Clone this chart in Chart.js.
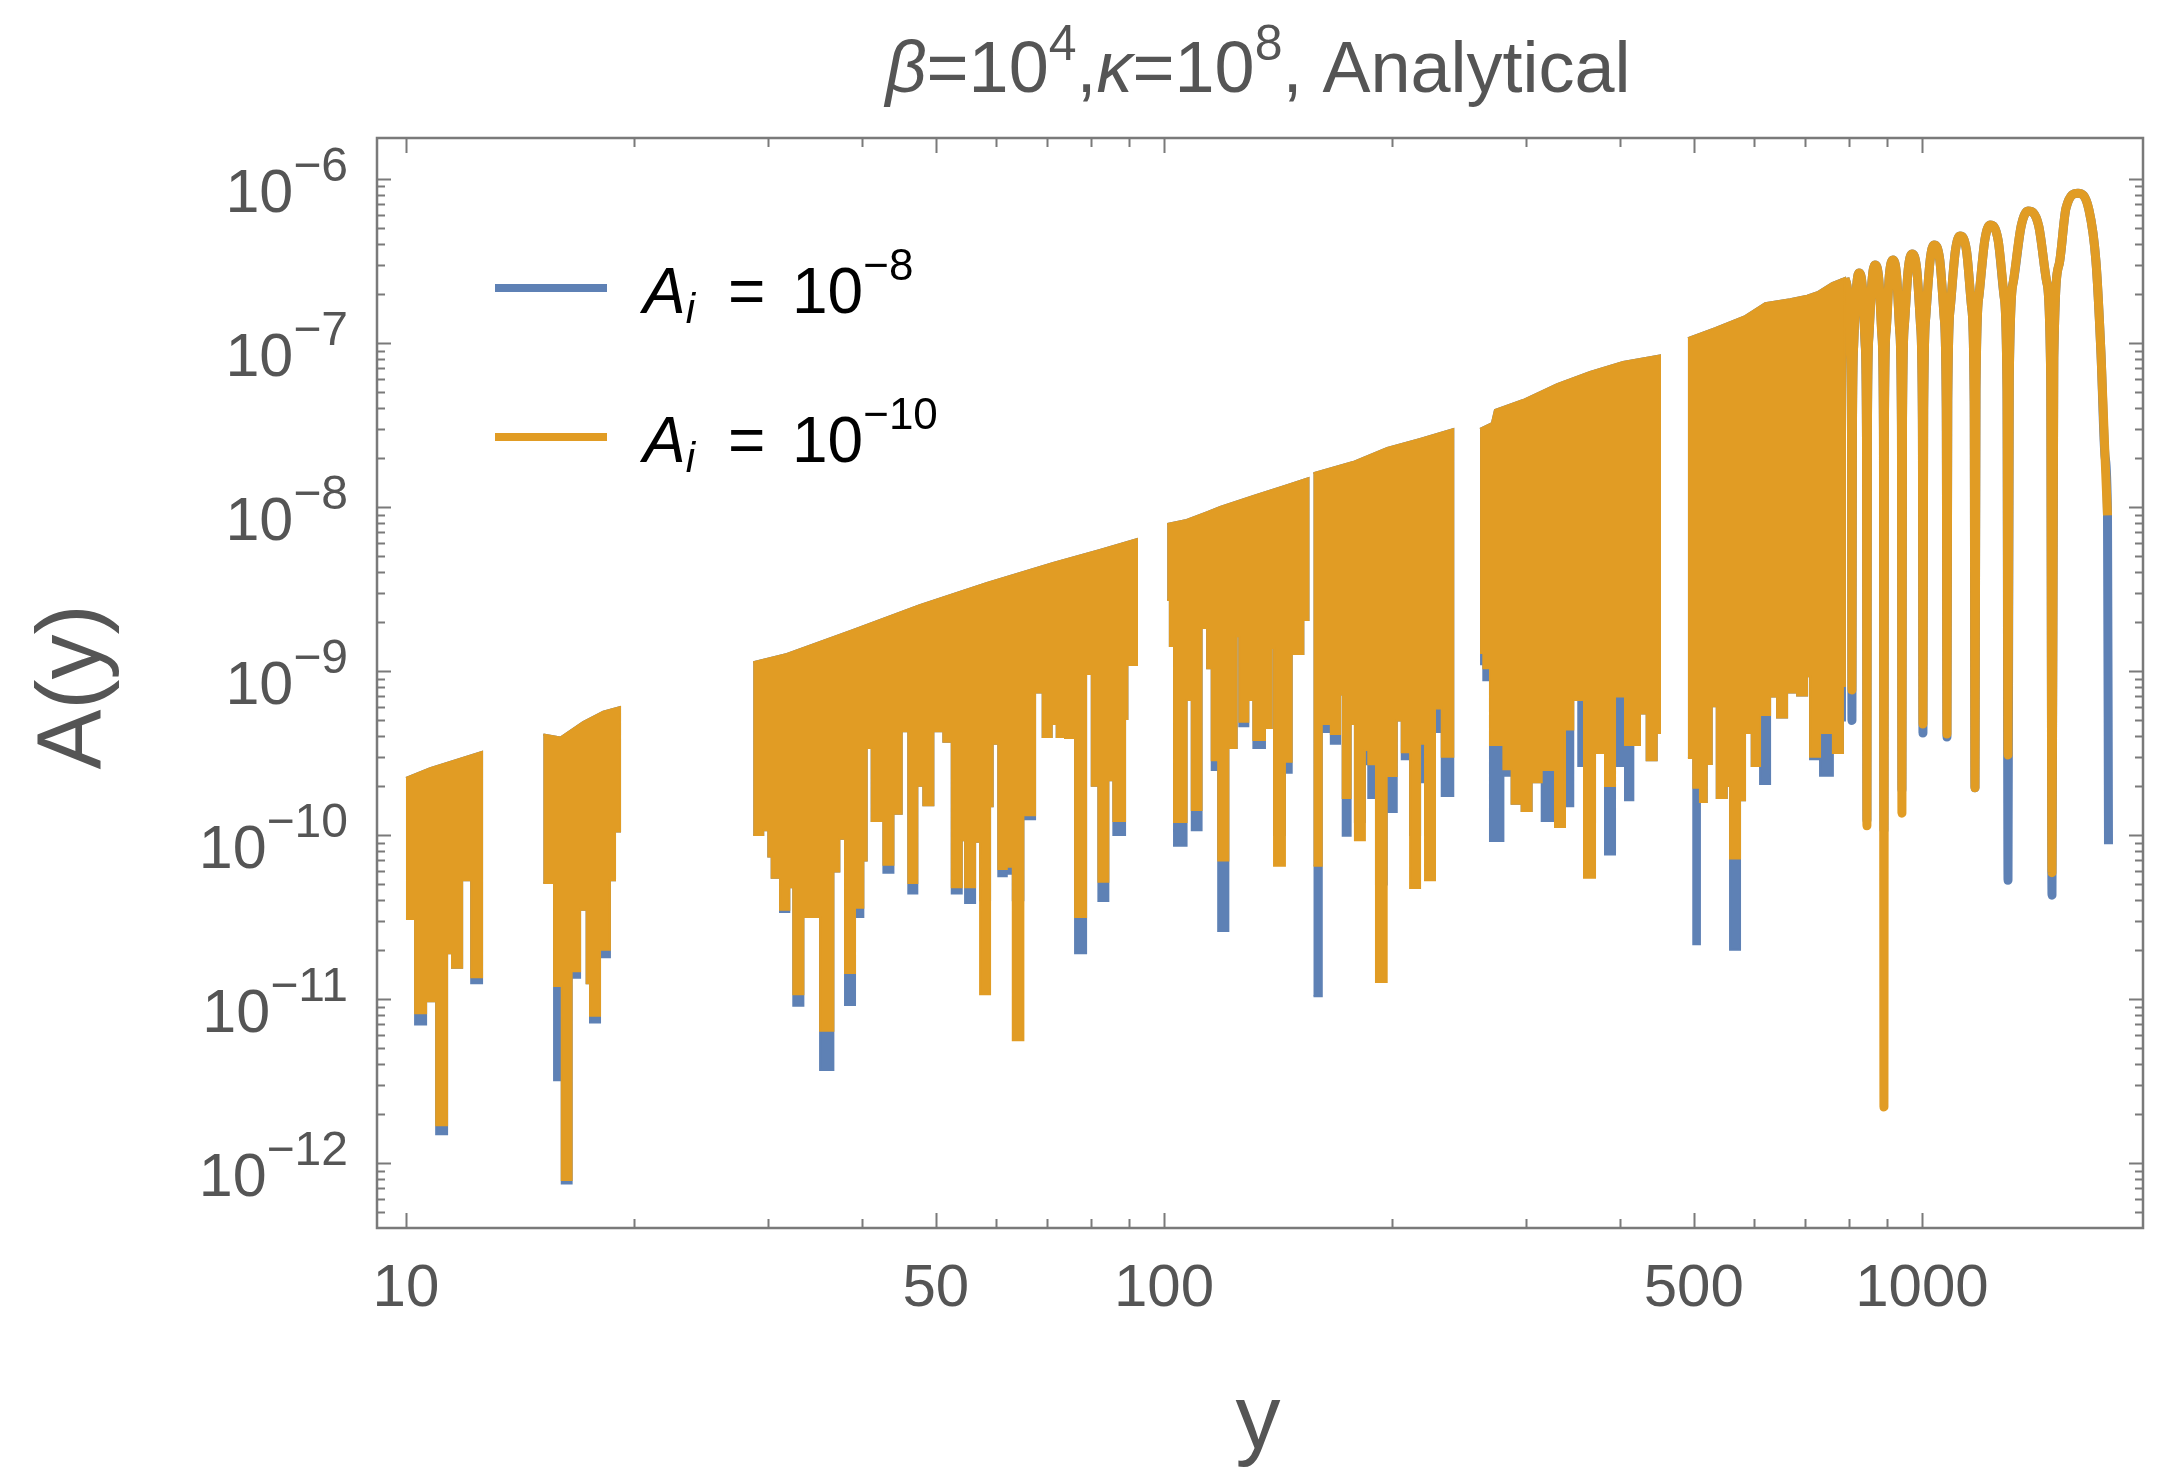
<!DOCTYPE html>
<html>
<head>
<meta charset="utf-8">
<title>A(y) analytical</title>
<script src="https://cdn.jsdelivr.net/npm/chart.js@4.4.1/dist/chart.umd.min.js"></script>
<style>
  html, body { margin: 0; padding: 0; background: #fff; }
  canvas { display: block; }
</style>
</head>
<body>
<canvas id="chart" width="2168" height="1469"></canvas>
<script>
// ---- data ----
const xTickLabels = [10, 50, 100, 500, 1000];
const xMinorTicks = [20, 30, 40, 60, 70, 80, 90, 200, 300, 400, 600, 700, 800, 900];
const yTickExps = [-12, -11, -10, -9, -8, -7, -6];

// upper envelope of the dense oscillations (null = gap between pieces)
const topX = [
  10.0, 10.76, 11.43, 12.6, null,
  15.18, 15.98, 17.12, 18.2, 19.16, null,
  28.72, 31.8, 38.9, 47.6, 58.4, 71.4, 82.3, 92.13, null,
  101.0, 107.1, 114.0, 118.6, 131.2, 145.3, 155.1, null,
  157.5, 177.5, 197.0, 217.7, 240.8, null,
  261.2, 270.8, 273.3, 297.6, 330.0, 364.8, 403.2, 451.2, null,
  491.2, 533.3, 584.2, 620.9, 669.9, 705.4, 729.3, 760.6, 791.4
];
const topA = [
  2.23e-10, 2.56e-10, 2.79e-10, 3.21e-10, null,
  4.1e-10, 3.93e-10, 4.89e-10, 5.66e-10, 6.03e-10, null,
  1.13e-9, 1.27e-9, 1.78e-9, 2.52e-9, 3.44e-9, 4.56e-9, 5.47e-9, 6.38e-9, null,
  7.87e-9, 8.34e-9, 9.3e-9, 1.0e-8, 1.17e-8, 1.36e-8, 1.5e-8, null,
  1.61e-8, 1.88e-8, 2.29e-8, 2.6e-8, 2.99e-8, null,
  2.99e-8, 3.25e-8, 3.9e-8, 4.49e-8, 5.62e-8, 6.65e-8, 7.66e-8, 8.4e-8, null,
  1.07e-7, 1.23e-7, 1.46e-7, 1.75e-7, 1.85e-7, 1.94e-7, 2.05e-7, 2.32e-7, 2.49e-7
];

// local minima under the envelope: each value holds until the next x
const floorX = [
  10.0, 10.28, 10.63, 10.96, 11.33, 11.5, 11.86, 12.19, null,
  15.18, 15.68, 16.05, 16.54, 16.97, 17.31, 17.49, 18.03, 18.58, 18.87, null,
  28.72, 29.6, 30.06, 30.37, 31.15, 32.04, 32.43, 33.44, 35.18, 36.63, 37.3, 37.95,
  39.12, 40.12, 40.53, 41.15, 42.64, 43.96, 45.08, 45.99, 47.27, 48.14, 49.63, 51.16,
  52.48, 54.1, 54.65, 56.34, 57.2, 58.96, 59.43, 60.45, 62.03, 63.17, 65.24, 67.6,
  69.18, 71.1, 72.19, 74.04, 76.33, 78.93, 80.3, 81.93, 84.45, 85.74, 88.85, 89.48, null,
  101.0, 101.8, 103.1, 107.1, 108.8, 112.1, 114.0, 115.6, 117.9, 121.6, 124.7, 125.7,
  129.2, 131.2, 135.9, 138.7, 139.7, 144.4, 147.4, 152.7, null,
  157.5, 161.5, 166.0, 170.7, 172.1, 176.3, 178.6, 184.1, 186.0, 190.4, 196.7, 202.8,
  205.9, 211.2, 217.7, 221.0, 227.8, 232.5, null,
  261.2, 263.8, 269.2, 280.4, 287.5, 296.4, 305.5, 315.0, 328.0, 338.1, 346.7, 352.0,
  358.2, 370.4, 381.8, 393.6, 405.7, 416.1, 424.6, 433.3, 446.7, null,
  491.2, 499.2, 509.4, 520.0, 528.0, 536.1, 552.6, 558.2, 575.4, 584.2, 596.2, 611.5,
  630.4, 643.9, 663.8, 684.3, 705.4, 711.8, 733.7, 762.9, 786.5
];
// A_i = 1e-10 (orange)
const floorA10 = [
  3.08e-11, 8.2e-12, 9.7e-12, 1.7e-12, 1.9e-11, 1.55e-11, 5.3e-11, 1.36e-11, null,
  5.1e-11, 1.2e-11, 7.9e-13, 1.48e-11, 3.5e-11, 1.25e-11, 7.9e-12, 2.0e-11, 5.3e-11, 1.05e-10, null,
  1.0e-10, 1.07e-10, 7.4e-11, 5.5e-11, 3.5e-11, 4.8e-11, 1.07e-11, 3.16e-11, 6.4e-12, 6.0e-11, 9.5e-11, 1.44e-11,
  3.6e-11, 7.0e-11, 3.4e-10, 1.22e-10, 6.6e-11, 1.35e-10, 4.3e-10, 5.1e-11, 2.0e-10, 1.52e-10, 4.3e-10, 3.7e-10,
  4.8e-11, 9.3e-11, 4.8e-11, 9.1e-11, 1.07e-11, 1.5e-10, 3.6e-10, 6.2e-11, 6.4e-11, 5.6e-12, 1.32e-10, 7.4e-10,
  3.96e-10, 4.75e-10, 3.96e-10, 3.9e-10, 3.16e-11, 9.6e-10, 2.0e-10, 5.2e-11, 2.16e-10, 1.22e-10, 5.1e-10, 1.09e-9, null,
  2.71e-9, 1.42e-9, 1.2e-10, 6.65e-10, 1.42e-10, 1.83e-9, 1.04e-9, 2.86e-10, 7.0e-11, 3.4e-10, 1.63e-9, 4.9e-10,
  6.65e-10, 3.8e-10, 4.5e-10, 1.38e-9, 6.5e-11, 2.8e-10, 1.27e-9, 2.05e-9, null,
  6.5e-11, 4.75e-10, 4.13e-10, 7.2e-10, 1.68e-10, 4.75e-10, 9.3e-11, 3.3e-10, 2.7e-10, 1.27e-11, 2.29e-10, 5.0e-10,
  3.2e-10, 4.75e-11, 3.6e-10, 5.3e-11, 5.9e-10, 3.0e-10, null,
  1.29e-9, 1.04e-9, 3.54e-10, 2.52e-10, 1.55e-10, 1.4e-10, 2.1e-10, 2.49e-10, 1.12e-10, 4.4e-10, 6.65e-10, 6.65e-10,
  5.5e-11, 3.16e-10, 1.99e-10, 7.0e-10, 3.54e-10, 3.54e-10, 5.5e-10, 2.86e-10, 4.19e-10, null,
  2.95e-10, 1.94e-10, 1.59e-10, 2.71e-10, 6.1e-10, 1.68e-10, 1.99e-10, 7.2e-11, 1.63e-10, 4.19e-10, 2.64e-10, 5.4e-10,
  7.0e-10, 5.2e-10, 7.4e-10, 7.1e-10, 9.3e-10, 3.0e-10, 4.19e-10, 3.16e-10, 8.1e-10
];
// A_i = 1e-8 (blue)
const floorA8 = [
  3.08e-11, 7.0e-12, 9.7e-12, 1.5e-12, 1.9e-11, 1.55e-11, 5.3e-11, 1.25e-11, null,
  5.1e-11, 3.2e-12, 7.5e-13, 1.35e-11, 3.5e-11, 1.25e-11, 7.2e-12, 1.8e-11, 5.3e-11, 1.05e-10, null,
  1.0e-10, 1.07e-10, 7.4e-11, 5.5e-11, 3.4e-11, 4.8e-11, 9.1e-12, 3.16e-11, 3.7e-12, 6.0e-11, 9.5e-11, 9.2e-12,
  3.16e-11, 7.0e-11, 3.4e-10, 1.22e-10, 5.9e-11, 1.35e-10, 4.3e-10, 4.4e-11, 2.0e-10, 1.52e-10, 4.3e-10, 3.7e-10,
  4.4e-11, 9.3e-11, 3.85e-11, 9.1e-11, 4.0e-11, 1.5e-10, 3.6e-10, 5.6e-11, 5.8e-11, 4.0e-11, 1.25e-10, 7.4e-10,
  3.96e-10, 4.75e-10, 3.96e-10, 3.9e-10, 1.9e-11, 9.6e-10, 2.0e-10, 3.96e-11, 2.16e-10, 1.0e-10, 5.1e-10, 1.09e-9, null,
  2.71e-9, 1.42e-9, 8.6e-11, 6.65e-10, 1.07e-10, 1.83e-9, 1.04e-9, 2.49e-10, 2.6e-11, 3.4e-10, 1.63e-9, 4.6e-10,
  6.65e-10, 3.4e-10, 4.5e-10, 1.38e-9, 1.0e-10, 2.4e-10, 1.27e-9, 2.05e-9, null,
  1.04e-11, 4.25e-10, 3.6e-10, 7.2e-10, 9.9e-11, 4.75e-10, 1.2e-10, 2.7e-10, 1.68e-10, 5.0e-11, 1.38e-10, 5.0e-10,
  2.9e-10, 1.0e-10, 2.1e-10, 1.0e-10, 4.25e-10, 1.73e-10, null,
  1.1e-9, 8.8e-10, 9.2e-11, 2.3e-10, 1.55e-10, 1.4e-10, 2.1e-10, 1.22e-10, 1.5e-10, 1.5e-10, 6.65e-10, 2.64e-10,
  1.2e-10, 3.16e-10, 7.6e-11, 2.64e-10, 1.63e-10, 3.54e-10, 5.5e-10, 2.86e-10, 4.19e-10, null,
  2.95e-10, 2.16e-11, 1.59e-10, 2.71e-10, 6.1e-10, 1.68e-10, 1.99e-10, 2.0e-11, 1.63e-10, 4.19e-10, 2.64e-10, 2.05e-10,
  7.0e-10, 5.2e-10, 7.4e-10, 7.1e-10, 9.3e-10, 2.9e-10, 2.3e-10, 3.16e-10, 5.0e-10
];

// resolved oscillations at large y: per lobe trough, flanks, shoulders, peak
const lobeX = [
  791.4, 798.2, 804.2, 807.4, 808.4,
  809.5, 812.8, 819.6, 825.7, 834.6, 841.4, 844.9, 846.0,
  847.3, 851.2, 859.3, 866.8, 877.3, 885.5, 889.5, 890.9,
  892.2, 896.8, 905.7, 915.5, 925.7, 934.6, 939.5, 940.9,
  942.6, 948.1, 959.2, 970.0, 984.1, 995.5, 1001.2, 1003.0,
  1005.2, 1011.9, 1025.2, 1037.1, 1055.5, 1069.4, 1076.6, 1078.9,
  1081.5, 1090.1, 1106.7, 1122.3, 1145.0, 1162.6, 1171.9, 1174.7,
  1178.3, 1189.1, 1210.4, 1229.5, 1260.1, 1283.0, 1294.7, 1298.7,
  1303.8, 1319.8, 1351.7, 1379.9, 1425.6, 1460.6, 1478.4, 1484.3,
  1492.5, 1517.2, 1548.9, 1606.3, 1660.8, 1696.6, 1722.6, 1743.6, 1756.9, 1762.2
];
const lobeA10 = [
  2.49e-7, 2.02e-7, 9.19e-8, 2.46e-8, 7.66e-10,
  2.64e-8, 9.86e-8, 2.16e-7, 2.67e-7, 2.16e-7, 9.86e-8, 2.64e-8, 1.14e-10,
  2.95e-8, 1.1e-7, 2.42e-7, 2.99e-7, 2.42e-7, 1.1e-7, 2.95e-8, 2.2e-12,
  3.16e-8, 1.18e-7, 2.6e-7, 3.21e-7, 2.6e-7, 1.18e-7, 3.16e-8, 1.36e-10,
  3.44e-8, 1.29e-7, 2.83e-7, 3.49e-7, 2.83e-7, 1.29e-7, 3.44e-8, 4.75e-10,
  3.9e-8, 1.46e-7, 3.21e-7, 3.96e-7, 3.21e-7, 1.46e-7, 3.9e-8, 4.13e-10,
  4.43e-8, 1.66e-7, 3.64e-7, 4.49e-7, 3.64e-7, 1.66e-7, 4.43e-8, 1.94e-10,
  5.17e-8, 1.94e-7, 4.25e-7, 5.25e-7, 4.25e-7, 1.94e-7, 5.17e-8, 3.08e-10,
  6.3e-8, 2.36e-7, 5.17e-7, 6.38e-7, 5.17e-7, 2.36e-7, 6.3e-8, 5.9e-11,
  8.1e-8, 3.03e-7, 6.65e-7, 8.2e-7, 6.47e-7, 3.12e-7, 8.57e-8, 2.05e-8, 8.9e-9, null
];
const lobeA8 = [
  2.49e-7, 2.02e-7, 9.19e-8, 2.46e-8, 5.0e-10,
  2.64e-8, 9.86e-8, 2.16e-7, 2.67e-7, 2.16e-7, 9.86e-8, 2.64e-8, 1.23e-10,
  2.95e-8, 1.1e-7, 2.42e-7, 2.99e-7, 2.42e-7, 1.1e-7, 2.95e-8, 1.07e-10,
  3.16e-8, 1.18e-7, 2.6e-7, 3.21e-7, 2.6e-7, 1.18e-7, 3.16e-8, 1.88e-10,
  3.44e-8, 1.29e-7, 2.83e-7, 3.49e-7, 2.83e-7, 1.29e-7, 3.44e-8, 4.19e-10,
  3.9e-8, 1.46e-7, 3.21e-7, 3.96e-7, 3.21e-7, 1.46e-7, 3.9e-8, 3.96e-10,
  4.43e-8, 1.66e-7, 3.64e-7, 4.49e-7, 3.64e-7, 1.66e-7, 4.43e-8, 1.94e-10,
  5.17e-8, 1.94e-7, 4.25e-7, 5.25e-7, 4.25e-7, 1.94e-7, 5.17e-8, 5.3e-11,
  6.3e-8, 2.36e-7, 5.17e-7, 6.38e-7, 5.17e-7, 2.36e-7, 6.3e-8, 4.3e-11,
  8.1e-8, 3.03e-7, 6.65e-7, 8.2e-7, 6.47e-7, 3.12e-7, 8.57e-8, 2.05e-8, 8.9e-9, 8.8e-11
];

// ---- styling ----
const BLUE = '#5e81b5';
const ORANGE = '#e19c24';
const FRAME = '#7a7a7a';
const LABEL = '#555555';
const FONT = '"Liberation Sans", Arial, sans-serif';

// index lists of each piece between nulls
function pieces(xs) {
  const out = [];
  let cur = null;
  xs.forEach((v, i) => {
    if (v === null) { cur = null; return; }
    if (!cur) { cur = []; out.push(cur); }
    cur.push(i);
  });
  return out;
}
const topPieces = pieces(topX);
const floorPieces = pieces(floorX);

// closed outline: envelope left->right, then stepped minima right->left
function band(p, floorA) {
  const t = topPieces[p], f = floorPieces[p];
  const pts = t.map(i => ({ x: topX[i], y: topA[i] }));
  const endX = topX[t[t.length - 1]];
  for (let k = f.length - 1; k >= 0; k--) {
    const i = f[k];
    const right = k === f.length - 1 ? endX : floorX[f[k + 1]];
    pts.push({ x: right, y: floorA[i] }, { x: floorX[i], y: floorA[i] });
  }
  return pts;
}

const datasets = [];
topPieces.forEach((_, p) => {
  datasets.push({ data: band(p, floorA10), borderColor: ORANGE, backgroundColor: ORANGE,
    borderWidth: 2, fill: 'shape', order: 1 });
  datasets.push({ data: band(p, floorA8), borderColor: BLUE, backgroundColor: BLUE,
    borderWidth: 2, fill: 'shape', order: 2 });
});
datasets.push({ data: lobeX.map((x, i) => ({ x, y: lobeA10[i] })), borderColor: ORANGE,
  borderWidth: 9, fill: false, cubicInterpolationMode: 'monotone', borderJoinStyle: 'round', order: 1 });
datasets.push({ data: lobeX.map((x, i) => ({ x, y: lobeA8[i] })), borderColor: BLUE,
  borderWidth: 9, fill: false, cubicInterpolationMode: 'monotone', borderJoinStyle: 'round', order: 2 });

// draws text pieces in a row; pieces: [text, size, style, dy]
function drawRow(ctx, x, y, parts, color) {
  ctx.fillStyle = color;
  ctx.textAlign = 'left';
  ctx.textBaseline = 'alphabetic';
  parts.forEach(([txt, size, style, dy]) => {
    ctx.font = `${style || ''} ${size}px ${FONT}`;
    ctx.fillText(txt, x, y + (dy || 0));
    x += ctx.measureText(txt).width;
  });
}
function rowWidth(ctx, parts) {
  let w = 0;
  parts.forEach(([txt, size, style]) => {
    ctx.font = `${style || ''} ${size}px ${FONT}`;
    w += ctx.measureText(txt).width;
  });
  return w;
}

const decor = {
  id: 'decor',
  afterDraw(chart) {
    const { ctx, chartArea: a, scales: { x, y } } = chart;
    ctx.save();

    // ticks on all four sides
    ctx.strokeStyle = FRAME;
    ctx.lineWidth = 2;
    ctx.beginPath();
    const xt = (v, len) => {
      const px = Math.round(x.getPixelForValue(v)) + 0.5;
      ctx.moveTo(px, a.bottom); ctx.lineTo(px, a.bottom - len);
      ctx.moveTo(px, a.top); ctx.lineTo(px, a.top + len);
    };
    const yt = (v, len) => {
      const py = Math.round(y.getPixelForValue(v)) + 0.5;
      ctx.moveTo(a.left, py); ctx.lineTo(a.left + len, py);
      ctx.moveTo(a.right, py); ctx.lineTo(a.right - len, py);
    };
    xTickLabels.forEach(v => xt(v, 15));
    xMinorTicks.forEach(v => xt(v, 9));
    for (let e = -13; e <= -6; e++) {
      if (yTickExps.includes(e)) yt(10 ** e, 14);
      for (let k = 2; k <= 9; k++) {
        const v = k * 10 ** e;
        if (v > y.min && v < y.max) yt(v, 8);
      }
    }
    ctx.stroke();

    // frame
    ctx.lineWidth = 2.5;
    ctx.strokeRect(a.left, a.top, a.right - a.left, a.bottom - a.top);

    // y tick labels 10^-n
    yTickExps.forEach(e => {
      const py = y.getPixelForValue(10 ** e);
      const sup = '\u2212' + Math.abs(e);
      const parts = [['10', 61, '', 0], [sup, 48, '', -31]];
      drawRow(ctx, 348 - rowWidth(ctx, parts), py + 33, parts, LABEL);
    });

    // x tick labels
    ctx.fillStyle = LABEL;
    ctx.font = `60px ${FONT}`;
    ctx.textAlign = 'center';
    xTickLabels.forEach(v => ctx.fillText(String(v), x.getPixelForValue(v), 1306));

    // title
    const title = [['\u03b2', 72, 'italic', 0], ['=10', 72, '', 0], ['4', 50, '', -32], [',', 72, '', 0],
      ['\u03ba', 72, 'italic', 0], ['=10', 72, '', 0], ['8', 50, '', -32], [', Analytical', 72, '', 0]];
    const cx = (a.left + a.right) / 2 - 2;
    drawRow(ctx, cx - rowWidth(ctx, title) / 2, 92, title, LABEL);

    // axis labels
    ctx.fillStyle = LABEL;
    ctx.font = `90px ${FONT}`;
    ctx.textAlign = 'center';
    ctx.fillText('y', cx, 1448);
    ctx.save();
    ctx.translate(100, (a.top + a.bottom) / 2 + 4);
    ctx.rotate(-Math.PI / 2);
    ctx.fillText('A(y)', 0, 0);
    ctx.restore();

    // legend
    const entries = [[BLUE, 288, '\u22128'], [ORANGE, 437, '\u221210']];
    entries.forEach(([col, ly, sup]) => {
      ctx.strokeStyle = col;
      ctx.lineWidth = 8;
      ctx.beginPath();
      ctx.moveTo(495, ly); ctx.lineTo(607, ly);
      ctx.stroke();
      const base = ly + 25;
      drawRow(ctx, 643, base, [['A', 64, 'italic', 0], ['i', 42, 'italic', 10]], '#000');
      drawRow(ctx, 728, base, [['=', 64, '', 0]], '#000');
      drawRow(ctx, 792, base, [['10', 64, '', 0], [sup, 44, '', -33]], '#000');
    });

    ctx.restore();
  }
};

new Chart(document.getElementById('chart'), {
  type: 'line',
  data: { datasets },
  options: {
    responsive: false,
    animation: false,
    events: [],
    elements: { point: { radius: 0 }, line: { tension: 0 } },
    layout: { padding: { left: 0, right: 25, top: 138, bottom: 0 } },
    plugins: { legend: { display: false }, title: { display: false }, tooltip: { enabled: false } },
    scales: {
      x: {
        type: 'logarithmic', min: 9.157, max: 1957, bounds: 'data',
        grid: { display: false }, border: { display: false }, ticks: { display: false },
        afterFit(s) { s.height = 241; }
      },
      y: {
        type: 'logarithmic', min: 4.02e-13, max: 1.778e-6, bounds: 'data',
        grid: { display: false }, border: { display: false }, ticks: { display: false },
        afterFit(s) { s.width = 377; }
      }
    }
  },
  plugins: [decor]
});
</script>
</body>
</html>
